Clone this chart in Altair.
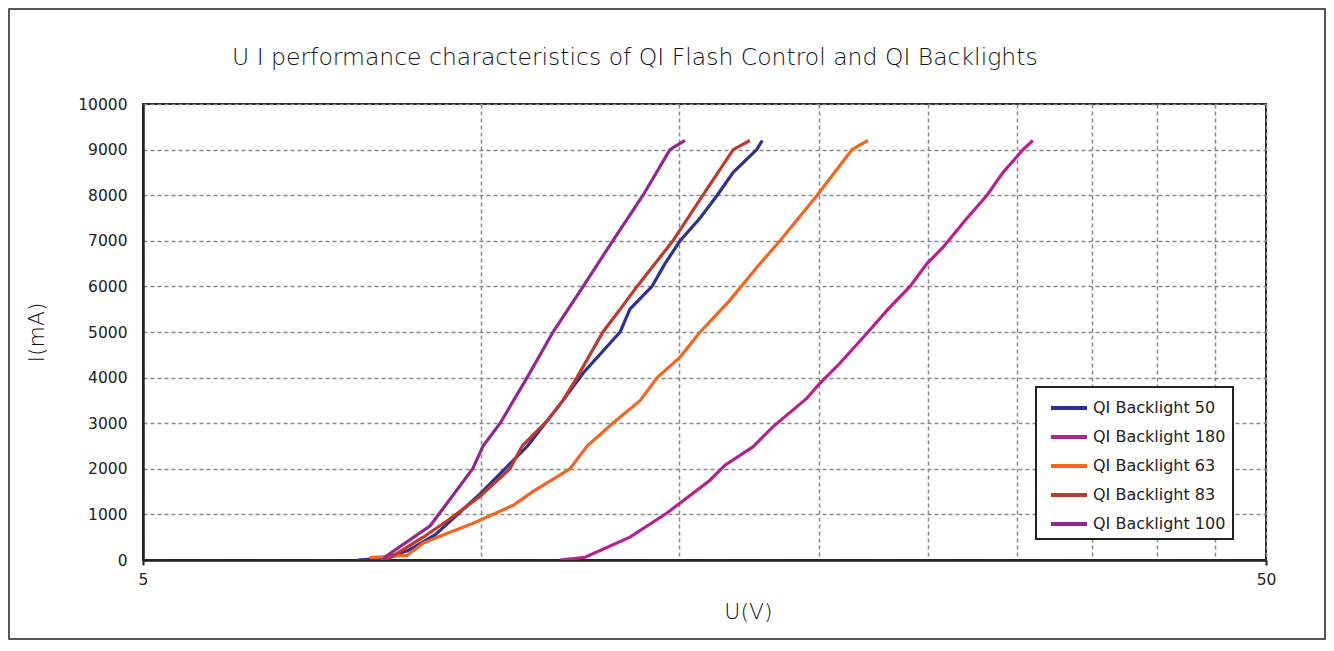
import altair as alt
import pandas as pd

series_names = ["QI Backlight 50", "QI Backlight 180", "QI Backlight 63", "QI Backlight 83", "QI Backlight 100"]
series_colors = ["#2E3192", "#B7218F", "#F26522", "#BE3A2F", "#93278F"]

blue_v = [7.77, 8.18, 8.6, 9.1, 9.98, 10.7, 11.0, 11.83, 12.33, 13.3, 13.57, 14.2, 14.58, 15.04, 15.67, 16.23, 16.77, 17.6, 17.8]
blue_i = [0, 40, 200, 550, 1450, 2200, 2500, 3500, 4100, 5000, 5500, 6000, 6500, 7000, 7500, 8000, 8500, 9000, 9200]

magenta_v = [11.75, 12.38, 13.57, 14.64, 15.99, 16.49, 17.46, 18.19, 19.51, 20.04, 20.88, 22.11, 23.04, 24.1, 24.95, 25.79, 27.09, 28.22, 29.16, 30.38, 31.0]
magenta_i = [0, 60, 500, 1030, 1750, 2080, 2480, 2920, 3550, 3880, 4320, 5000, 5500, 6000, 6500, 6860, 7500, 8000, 8500, 9000, 9200]

orange_v = [7.96, 8.3, 8.59, 8.88, 9.25, 9.83, 10.68, 11.12, 12.0, 12.43, 13.1, 13.86, 14.35, 15.04, 15.67, 16.66, 17.72, 18.46, 19.92, 21.4, 22.11]
orange_i = [50, 80, 100, 370, 550, 800, 1200, 1500, 2000, 2500, 3000, 3500, 4000, 4450, 5000, 5700, 6500, 7000, 8000, 9000, 9200]

red_v = [8.15, 8.3, 8.88, 9.38, 9.98, 10.61, 10.88, 11.45, 11.83, 12.17, 12.84, 13.3, 13.77, 14.82, 15.76, 16.77, 17.35]
red_i = [0, 50, 500, 900, 1400, 2000, 2500, 3050, 3500, 4000, 5000, 5500, 6000, 7000, 8000, 9000, 9200]

purple_v = [8.18, 8.25, 9.01, 9.83, 10.04, 10.4, 10.99, 11.59, 12.33, 13.1, 13.94, 14.73, 15.19]
purple_i = [0, 100, 750, 2000, 2500, 3000, 4000, 5000, 6000, 7000, 8000, 9000, 9200]

x_grid = [5, 10, 15, 20, 25, 30, 35, 40, 45, 50]
y_ticks = [0, 1000, 2000, 3000, 4000, 5000, 6000, 7000, 8000, 9000, 10000]

rows = []
for name, vs, cs in zip(series_names,
                        [blue_v, magenta_v, orange_v, red_v, purple_v],
                        [blue_i, magenta_i, orange_i, red_i, purple_i]):
    for k, (v, c) in enumerate(zip(vs, cs)):
        rows.append({"series": name, "U": v, "I": c, "k": k})
df = pd.DataFrame(rows)

FONT = "DejaVu Sans"
TXT = "#222"
TTL = "#111"

lines = alt.Chart(df).mark_line(strokeWidth=3.2, clip=True).encode(
    x=alt.X("U:Q", scale=alt.Scale(type="log", domain=[5, 50], nice=False),
            axis=alt.Axis(values=x_grid, labelExpr="datum.value == 5 || datum.value == 50 ? datum.label : ''",
                          title="U(V)", titleFontSize=22, titleFont=FONT, titleFontWeight=300,
                          titleColor=TTL, titleX=605, titleY=41,
                          labelFontSize=15.5, labelFont=FONT, labelColor=TXT, labelPadding=7,
                          labelFlush=False, labelBound=False,
                          grid=True, gridDash=[4, 3], gridColor="#8a8a8a", gridWidth=1.5,
                          domainColor=TXT, domainWidth=2.5, tickColor=TXT, tickSize=5, tickWidth=2,
                          tickOpacity=alt.expr("datum.value == 5 || datum.value == 50 ? 1 : 0"))),
    y=alt.Y("I:Q", scale=alt.Scale(domain=[0, 10000], nice=False),
            axis=alt.Axis(values=y_ticks, format="d", title="I(mA)", titleFontSize=22, titleFont=FONT,
                          titleFontWeight=300, titleColor=TTL, titleX=-95,
                          labelFontSize=15.5, labelFont=FONT, labelColor=TXT, labelPadding=16,
                          labelFlush=False, labelBound=False,
                          ticks=False, grid=True, gridDash=[4, 3], gridColor="#8a8a8a", gridWidth=1.5,
                          domainColor=TXT, domainWidth=2.5)),
    color=alt.Color("series:N", scale=alt.Scale(domain=series_names, range=series_colors),
                    legend=alt.Legend(title=None, orient="none", legendX=893, legendY=283,
                                      symbolType="M-0.5,0H2.5", symbolSize=576, symbolStrokeWidth=4,
                                      labelFontSize=16, labelFont=FONT, labelColor=TXT,
                                      rowPadding=7, padding=7, labelOffset=22,
                                      strokeColor=TXT, fillColor="white")),
    order="k:Q",
)

border = alt.Chart(alt.Data(values=[{}])).mark_rect(fill=None, stroke=TXT, strokeWidth=1.5, clip=False).encode(
    x=alt.value(-134), x2=alt.value(1182), y=alt.value(-95), y2=alt.value(535)
)

chart = alt.layer(border, lines).properties(
    width=1123, height=456,
    autosize=alt.AutoSizeParams(type="none"),
    padding={"left": 135, "top": 96, "right": 60, "bottom": 80},
    title=alt.TitleParams("U I performance characteristics of QI Flash Control and QI Backlights",
                          anchor="start", frame="group", dx=89, offset=-80, fontSize=23.5, font=FONT,
                          fontWeight=300, color=TTL, baseline="alphabetic"),
).configure_view(stroke=TXT, strokeWidth=2).configure_legend(strokeWidth=2)

chart.save("out.html", embed_options={"renderer": "svg", "actions": False})
